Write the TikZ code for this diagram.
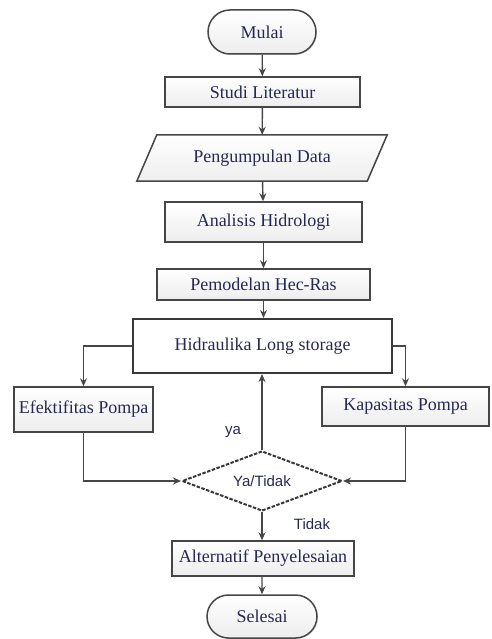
\documentclass[tikz,border=0pt]{standalone}
\usepackage{fontspec}
\setmainfont{Liberation Serif}
\newfontfamily\sansf{Liberation Sans}
\usetikzlibrary{arrows.meta,shapes.geometric,shapes.misc,shadows}
\definecolor{txt}{RGB}{38,40,85}
\definecolor{edge}{RGB}{70,70,70}
\begin{document}
\begin{tikzpicture}[x=1pt,y=-1pt,
  font=\fontsize{18}{20}\selectfont\color{txt},
  base/.style={draw=edge,line width=1.5pt,inner sep=0pt,
    top color=white,bottom color=gray!14,
    drop shadow={shadow xshift=1pt,shadow yshift=-1pt,opacity=0.25}},
  procbox/.style={base,rectangle},
  termbox/.style={base,rounded rectangle},
  conn/.style={draw=edge,line width=1.4pt,-{Stealth[length=8pt,width=7pt]}},
  lbl/.style={font=\sansf\fontsize{15}{17}\selectfont\color{txt}}]
\useasboundingbox (0,0) rectangle (491,639);

\node[termbox,minimum width=108pt,minimum height=44pt] (mulai) at (262,32) {Mulai};
\node[procbox,minimum width=195pt,minimum height=30pt] (studi) at (262.5,92) {Studi Literatur};
\node[minimum width=210pt,minimum height=46pt,inner sep=0pt] (pd) at (262,158) {};
\fill[gray!40,opacity=0.25] ([shift={(1,1)}]pd.north west) -- ([shift={(21,1)}]pd.north east) -- ([shift={(1,1)}]pd.south east) -- ([shift={(-19,1)}]pd.south west) -- cycle;
\path[draw=edge,line width=1.5pt,top color=white,bottom color=gray!14] (pd.north west) -- ([xshift=20pt]pd.north east) -- (pd.south east) -- ([xshift=-20pt]pd.south west) -- cycle;
\node at (pd.center) {Pengumpulan Data};
\node[procbox,minimum width=197pt,minimum height=40pt] (anal) at (263.5,222) {Analisis Hidrologi};
\node[procbox,minimum width=213pt,minimum height=31pt] (pemo) at (263.5,284.5) {Pemodelan Hec-Ras};
\node[draw=edge!80!black,line width=2pt,fill=white,minimum width=259pt,minimum height=54pt,inner sep=0pt] (hid) at (262.5,346) {Hidraulika Long storage};
\node[procbox,minimum width=139pt,minimum height=45pt] (ef) at (83.5,409.5) {Efektifitas Pompa};
\node[procbox,minimum width=167pt,minimum height=39pt] (kap) at (405.5,406.5) {Kapasitas Pompa};
\node[diamond,draw=edge!80!black,line width=2pt,dash pattern=on 3.5pt off 1.5pt,fill=white,minimum width=160pt,minimum height=60pt,inner sep=0pt,aspect=2.67] (dia) at (262,481) {};
\node[lbl] at (dia.center) {Ya/Tidak};
\node[procbox,minimum width=182pt,minimum height=35pt] (alt) at (263,558.5) {Alternatif Penyelesaian};
\node[termbox,minimum width=110pt,minimum height=43pt] (sel) at (262,616.5) {Selesai};

\draw[conn] (mulai) -- (studi);
\draw[conn] (studi) -- (pd);
\draw[conn] (pd) -- (anal);
\draw[conn] (anal) -- (pemo);
\draw[conn] (pemo) -- (hid.north -| pemo.south);
\draw[conn] (hid.west) -| (ef.north);
\draw[conn] (hid.east) -| (kap.north);
\draw[conn] (ef.south) |- (dia.west);
\draw[conn] (kap.south) |- (dia.east);
\draw[conn] (dia.north) -- (hid.south -| dia.north);
\draw[conn] (dia.south) -- (alt.north -| dia.south);
\draw[conn] (alt.south -| sel.north) -- (sel);
\node[lbl] (ya) at (233,432) {ya};
\node[lbl] (tidak) at (312,524) {Tidak};
\end{tikzpicture}
\end{document}
